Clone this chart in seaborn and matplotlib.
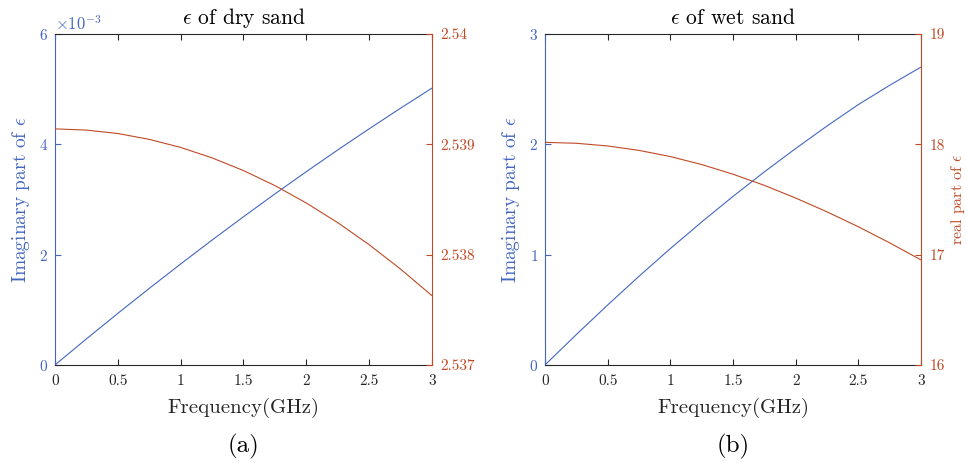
import matplotlib
matplotlib.use("Agg")
import matplotlib.pyplot as plt
import seaborn as sns

# frequency grid (GHz)
freq = [0, 0.25, 0.5, 0.75, 1.0, 1.25, 1.5, 1.75, 2.0, 2.25, 2.5, 2.75, 3.0]

# dry sand
dry_imag = [0, 0.473e-3, 0.935e-3, 1.388e-3, 1.831e-3, 2.264e-3, 2.687e-3,
            3.101e-3, 3.504e-3, 3.898e-3, 4.281e-3, 4.655e-3, 5.019e-3]
dry_real = [2.539140, 2.539129, 2.539098, 2.539045, 2.538972, 2.538877,
            2.538762, 2.538626, 2.538468, 2.538290, 2.538090, 2.537869,
            2.537628]

# wet sand
wet_imag = [0, 0.276, 0.544, 0.804, 1.055, 1.296, 1.528,
            1.750, 1.962, 2.166, 2.360, 2.535, 2.700]
wet_real = [18.018, 18.0095, 17.985, 17.945, 17.889, 17.817, 17.729,
            17.628, 17.513, 17.388, 17.253, 17.107, 16.952]

xticks = [0, 0.5, 1, 1.5, 2, 2.5, 3]

blue = "#4466c0"
red = "#bf4a25"
dark = "#262626"

sns.set_style("ticks")
plt.rcParams["font.family"] = "serif"
plt.rcParams["font.serif"] = ["cmr10"]
plt.rcParams["mathtext.fontset"] = "cm"
plt.rcParams["axes.formatter.use_mathtext"] = True
plt.rcParams["axes.unicode_minus"] = False

fig = plt.figure(figsize=(9.66, 4.63), dpi=100)


def panel(rect, imag, real, title, real_lim, real_ticks, imag_lim, imag_ticks,
          tag, real_label, sci):
    ax = fig.add_axes(rect)
    sns.lineplot(x=freq, y=imag, ax=ax, color=blue, linewidth=0.8)
    ax.set_xlim(0, 3)
    ax.set_ylim(*imag_lim)
    ax.set_xticks(xticks)
    ax.set_xticklabels([f"{t:g}" for t in xticks])
    ax.set_yticks(imag_ticks)
    if sci:
        ax.ticklabel_format(axis="y", style="sci", scilimits=(0, 0))
    ax.tick_params(axis="x", direction="in", top=True, length=4, pad=7,
                   labelsize=11, color=dark, labelcolor=dark)
    ax.tick_params(axis="y", direction="in", length=4, pad=5,
                   labelsize=11, color=blue, labelcolor=blue)
    for s in ["top", "bottom"]:
        ax.spines[s].set_color(dark)
        ax.spines[s].set_linewidth(0.8)
    ax.spines["left"].set_color(blue)
    ax.spines["left"].set_linewidth(0.8)
    ax.spines["right"].set_visible(False)
    ax.set_xlabel("Frequency(GHz)", fontsize=15, color=dark, labelpad=7)
    ax.set_ylabel(r"Imaginary part of $\epsilon$", fontsize=14, color=blue,
                  labelpad=5)
    ax.set_title(title, fontsize=15.5, color="black", pad=7)
    ax.yaxis.get_offset_text().set_color(blue)
    ax.yaxis.get_offset_text().set_fontsize(12)
    ax.text(0.5, -0.245, tag, transform=ax.transAxes, ha="center",
            va="center", fontsize=18, color="black")

    ax2 = ax.twinx()
    sns.lineplot(x=freq, y=real, ax=ax2, color=red, linewidth=0.8)
    ax2.set_ylim(*real_lim)
    ax2.set_yticks(real_ticks)
    ax2.set_yticklabels([f"{t:g}" for t in real_ticks])
    ax2.tick_params(axis="y", direction="in", length=4, pad=6,
                    labelsize=11, color=red, labelcolor=red)
    ax2.spines["right"].set_color(red)
    ax2.spines["right"].set_linewidth(0.8)
    for s in ["top", "bottom", "left"]:
        ax2.spines[s].set_visible(False)
    if real_label:
        ax2.set_ylabel(real_label, fontsize=11.5, color=red, labelpad=3)
    else:
        ax2.set_ylabel("")
    return ax, ax2


panel([0.0569, 0.2117, 0.3903, 0.7149], dry_imag, dry_real,
      r"$\epsilon$ of dry sand", (2.537, 2.540),
      [2.537, 2.538, 2.539, 2.540], (0, 6e-3), [0, 2e-3, 4e-3, 6e-3],
      "(a)", None, True)
panel([0.5642, 0.2117, 0.3892, 0.7149], wet_imag, wet_real,
      r"$\epsilon$ of wet sand", (16, 19), [16, 17, 18, 19],
      (0, 3), [0, 1, 2, 3], "(b)", r"real part of $\epsilon$", False)

fig.savefig("out.png", dpi=100)
